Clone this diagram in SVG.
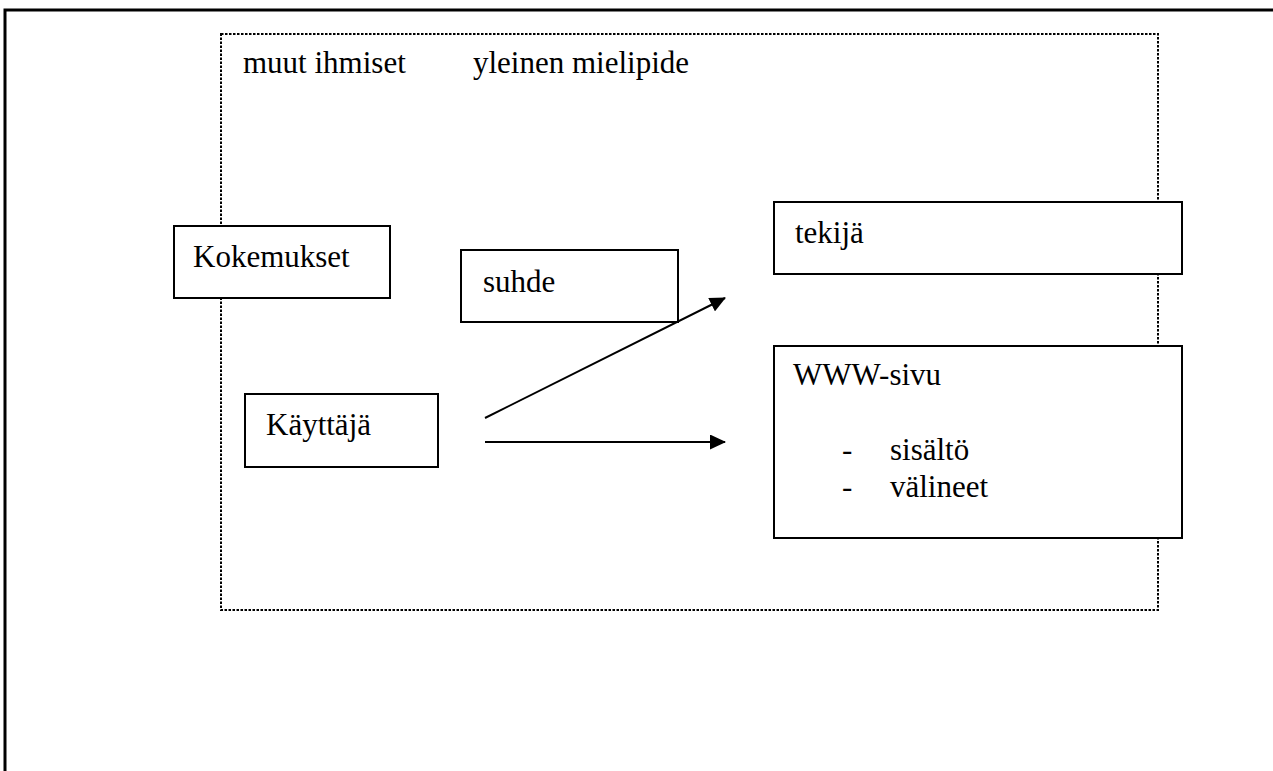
<svg xmlns="http://www.w3.org/2000/svg" width="1273" height="771" viewBox="0 0 1273 771">
  <style>
    text { font-family: "Liberation Serif", "Times New Roman", serif; font-size: 31px; fill: #000; }
    .box { fill: #fff; stroke: #000; stroke-width: 2; }
    .frame { fill: none; stroke: #000; stroke-width: 3; }
    .dotted { fill: none; stroke: #000; stroke-width: 2; stroke-dasharray: 2.5 1.5; }
    .conn { fill: none; stroke: #000; stroke-width: 2; }
  </style>
  <defs>
    <marker id="arrow" viewBox="0 0 16 15" refX="15" refY="7.5" markerWidth="16" markerHeight="15" markerUnits="userSpaceOnUse" orient="auto">
      <path d="M0,0 L16,7.5 L0,15 Z" fill="#000"/>
    </marker>
  </defs>

  <rect width="1273" height="771" fill="#fff"/>

  <!-- page frame: top and left edges -->
  <path class="frame" d="M5,771 L5,10 L1273,10"/>

  <!-- surrounding context area -->
  <g id="context">
    <rect class="dotted" x="221" y="34" width="937" height="576"/>
    <text x="243" y="73">muut ihmiset</text>
    <text x="473" y="73">yleinen mielipide</text>
  </g>

  <g id="kokemukset">
    <rect class="box" x="174" y="226" width="216" height="72"/>
    <text x="193" y="267">Kokemukset</text>
  </g>

  <g id="suhde">
    <rect class="box" x="461" y="250" width="217" height="72"/>
    <text x="483" y="292">suhde</text>
  </g>

  <g id="tekija">
    <rect class="box" x="774" y="202" width="408" height="72"/>
    <text x="795" y="243">tekijä</text>
  </g>

  <g id="kayttaja">
    <rect class="box" x="245" y="394" width="193" height="73"/>
    <text x="266" y="435">Käyttäjä</text>
  </g>

  <g id="www-sivu">
    <rect class="box" x="774" y="346" width="408" height="192"/>
    <text x="793" y="385">WWW-sivu</text>
    <text x="842" y="460">-</text>
    <text x="890" y="460">sisältö</text>
    <text x="842" y="497">-</text>
    <text x="890" y="497">välineet</text>
  </g>

  <g id="connectors">
    <line class="conn" x1="485" y1="418" x2="725" y2="298" marker-end="url(#arrow)"/>
    <line class="conn" x1="485" y1="442" x2="725" y2="442" marker-end="url(#arrow)"/>
  </g>
</svg>
